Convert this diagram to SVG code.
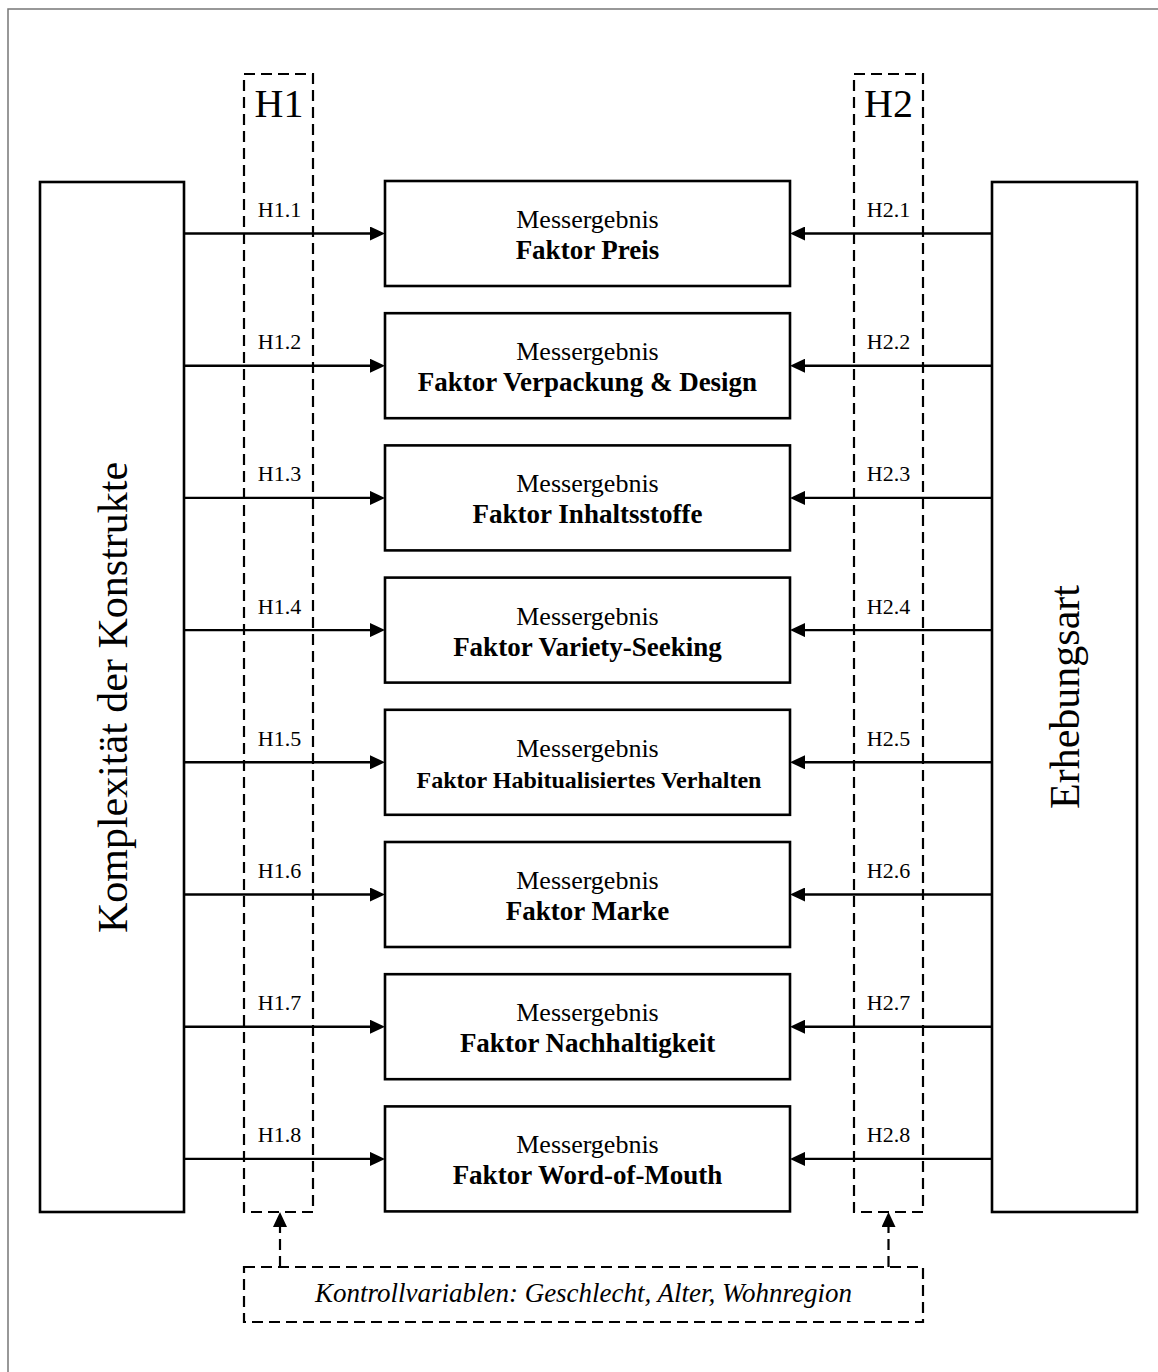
<svg xmlns="http://www.w3.org/2000/svg" width="1158" height="1372" viewBox="0 0 1158 1372">
  <defs>
    <style>
      text { font-family: "Liberation Serif", "Times New Roman", serif; fill: #000; }
      .box { fill: #fff; stroke: #000; stroke-width: 2.6; }
      .grp { fill: none; stroke: #000; stroke-width: 2.2; stroke-dasharray: 11 6; }
      .big { font-size: 42px; }
      .hl { font-size: 40px; text-anchor: middle; }
      .lbl { font-size: 22px; text-anchor: middle; }
      .m1 { font-size: 26px; text-anchor: middle; }
      .m2 { font-size: 27px; font-weight: bold; text-anchor: middle; }
      .m2s { font-size: 24px; font-weight: bold; text-anchor: middle; }
      .kv { font-size: 27px; font-style: italic; text-anchor: middle; }
      .arr { stroke: #000; stroke-width: 2.4; fill: none; }
      .darr { stroke: #000; stroke-width: 2.2; fill: none; stroke-dasharray: 11 6; }
    </style>
    <marker id="ah" viewBox="0 0 15 14" refX="5" refY="7" markerWidth="15" markerHeight="14" markerUnits="userSpaceOnUse" orient="auto">
      <path d="M0,0 L15,7 L0,14 z" fill="#000"/>
    </marker>
  </defs>

  <!-- page frame -->
  <rect x="8" y="9" width="1170" height="1400" fill="#fff" stroke="#777" stroke-width="1.5"/>

  <!-- hypothesis groups -->
  <g id="group-h1">
    <rect class="grp" x="244" y="74" width="69" height="1138"/>
    <text class="hl" x="279" y="117">H1</text>
  </g>
  <g id="group-h2">
    <rect class="grp" x="854" y="74" width="69" height="1138"/>
    <text class="hl" x="888.5" y="117">H2</text>
  </g>

  <!-- independent variables -->
  <g id="komplexitaet">
    <rect class="box" x="40" y="182" width="144" height="1030"/>
    <text class="big" text-anchor="middle" transform="translate(127 697.5) rotate(-90)">Komplexität der Konstrukte</text>
  </g>
  <g id="erhebungsart">
    <rect class="box" x="992" y="182" width="145" height="1030"/>
    <text class="big" text-anchor="middle" transform="translate(1079 697) rotate(-90)">Erhebungsart</text>
  </g>

  <!-- measurement result nodes -->
  <g id="faktor-preis">
    <rect class="box" x="385" y="181" width="405" height="105"/>
    <text class="m1" x="587.5" y="228">Messergebnis</text>
    <text class="m2" x="587.5" y="259">Faktor Preis</text>
  </g>
  <g id="faktor-verpackung">
    <rect class="box" x="385" y="313.2" width="405" height="105"/>
    <text class="m1" x="587.5" y="360.2">Messergebnis</text>
    <text class="m2" x="587.5" y="391.2">Faktor Verpackung &amp; Design</text>
  </g>
  <g id="faktor-inhaltsstoffe">
    <rect class="box" x="385" y="445.4" width="405" height="105"/>
    <text class="m1" x="587.5" y="492.4">Messergebnis</text>
    <text class="m2" x="587.5" y="523.4">Faktor Inhaltsstoffe</text>
  </g>
  <g id="faktor-variety-seeking">
    <rect class="box" x="385" y="577.6" width="405" height="105"/>
    <text class="m1" x="587.5" y="624.6">Messergebnis</text>
    <text class="m2" x="587.5" y="655.6">Faktor Variety-Seeking</text>
  </g>
  <g id="faktor-habitualisiert">
    <rect class="box" x="385" y="709.8" width="405" height="105"/>
    <text class="m1" x="587.5" y="756.8">Messergebnis</text>
    <text class="m2s" x="589" y="787.8">Faktor Habitualisiertes Verhalten</text>
  </g>
  <g id="faktor-marke">
    <rect class="box" x="385" y="842" width="405" height="105"/>
    <text class="m1" x="587.5" y="889">Messergebnis</text>
    <text class="m2" x="587.5" y="920">Faktor Marke</text>
  </g>
  <g id="faktor-nachhaltigkeit">
    <rect class="box" x="385" y="974.2" width="405" height="105"/>
    <text class="m1" x="587.5" y="1021.2">Messergebnis</text>
    <text class="m2" x="587.5" y="1052.2">Faktor Nachhaltigkeit</text>
  </g>
  <g id="faktor-word-of-mouth">
    <rect class="box" x="385" y="1106.4" width="405" height="105"/>
    <text class="m1" x="587.5" y="1153.4">Messergebnis</text>
    <text class="m2" x="587.5" y="1184.4">Faktor Word-of-Mouth</text>
  </g>

  <!-- control variables -->
  <g id="kontrollvariablen">
    <rect class="grp" x="244" y="1267" width="679" height="55"/>
    <text class="kv" x="583.5" y="1302">Kontrollvariablen: Geschlecht, Alter, Wohnregion</text>
  </g>

  <!-- connectors -->
  <g id="connectors">
    <line class="arr" x1="184" y1="233.5" x2="375" y2="233.5" marker-end="url(#ah)"/>
    <line class="arr" x1="184" y1="365.7" x2="375" y2="365.7" marker-end="url(#ah)"/>
    <line class="arr" x1="184" y1="497.9" x2="375" y2="497.9" marker-end="url(#ah)"/>
    <line class="arr" x1="184" y1="630.1" x2="375" y2="630.1" marker-end="url(#ah)"/>
    <line class="arr" x1="184" y1="762.3" x2="375" y2="762.3" marker-end="url(#ah)"/>
    <line class="arr" x1="184" y1="894.5" x2="375" y2="894.5" marker-end="url(#ah)"/>
    <line class="arr" x1="184" y1="1026.7" x2="375" y2="1026.7" marker-end="url(#ah)"/>
    <line class="arr" x1="184" y1="1158.9" x2="375" y2="1158.9" marker-end="url(#ah)"/>

    <line class="arr" x1="992" y1="233.5" x2="800" y2="233.5" marker-end="url(#ah)"/>
    <line class="arr" x1="992" y1="365.7" x2="800" y2="365.7" marker-end="url(#ah)"/>
    <line class="arr" x1="992" y1="497.9" x2="800" y2="497.9" marker-end="url(#ah)"/>
    <line class="arr" x1="992" y1="630.1" x2="800" y2="630.1" marker-end="url(#ah)"/>
    <line class="arr" x1="992" y1="762.3" x2="800" y2="762.3" marker-end="url(#ah)"/>
    <line class="arr" x1="992" y1="894.5" x2="800" y2="894.5" marker-end="url(#ah)"/>
    <line class="arr" x1="992" y1="1026.7" x2="800" y2="1026.7" marker-end="url(#ah)"/>
    <line class="arr" x1="992" y1="1158.9" x2="800" y2="1158.9" marker-end="url(#ah)"/>

    <line class="darr" x1="280" y1="1267" x2="280" y2="1222" marker-end="url(#ah)"/>
    <line class="darr" x1="888.5" y1="1267" x2="888.5" y2="1222" marker-end="url(#ah)"/>

    <!-- hypothesis labels -->
    <text class="lbl" x="279.5" y="217">H1.1</text>
    <text class="lbl" x="279.5" y="349.2">H1.2</text>
    <text class="lbl" x="279.5" y="481.4">H1.3</text>
    <text class="lbl" x="279.5" y="613.6">H1.4</text>
    <text class="lbl" x="279.5" y="745.8">H1.5</text>
    <text class="lbl" x="279.5" y="878">H1.6</text>
    <text class="lbl" x="279.5" y="1010.2">H1.7</text>
    <text class="lbl" x="279.5" y="1142.4">H1.8</text>

    <text class="lbl" x="888.5" y="217">H2.1</text>
    <text class="lbl" x="888.5" y="349.2">H2.2</text>
    <text class="lbl" x="888.5" y="481.4">H2.3</text>
    <text class="lbl" x="888.5" y="613.6">H2.4</text>
    <text class="lbl" x="888.5" y="745.8">H2.5</text>
    <text class="lbl" x="888.5" y="878">H2.6</text>
    <text class="lbl" x="888.5" y="1010.2">H2.7</text>
    <text class="lbl" x="888.5" y="1142.4">H2.8</text>
  </g>
</svg>
